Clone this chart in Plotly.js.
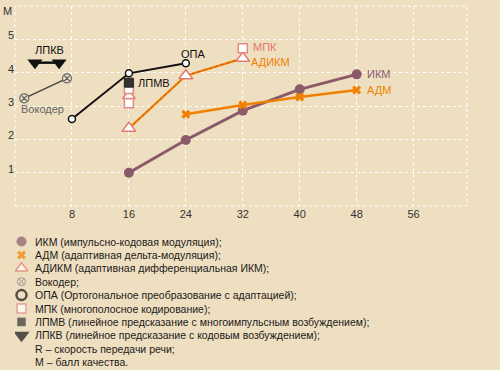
<!DOCTYPE html>
<html><head><meta charset="utf-8">
<script src="https://cdn.plot.ly/plotly-3.0.1.min.js"></script>
<style>html,body{margin:0;padding:0;background:#efdfc1;}</style>
</head><body><div id="chart" style="width:500px;height:370px;"></div>
<script>
// ---- data ----
const ikmX = [16, 24, 32, 40, 48];
const ikmY = [1.0, 1.98, 2.86, 3.5, 3.95];
const admX = [24, 32, 40, 48];
const admY = [2.75, 3.03, 3.27, 3.48];
const adikmX = [16, 24, 32];
const adikmY = [2.33, 3.91, 4.43];
const adikmExtraX = [16];
const adikmExtraY = [3.31];
const mpkX = [16, 16, 32];
const mpkY = [3.51, 3.08, 4.73];
const lpmvX = [16];
const lpmvY = [3.7];
const opaX = [8, 16, 24];
const opaY = [2.61, 3.98, 4.28];
const vocX = [1.3, 7.3];
const vocY = [3.23, 3.83];
const lpkvX = [2.8, 6.2];
const lpkvY = [4.3, 4.3];
const xTicks = [8, 16, 24, 32, 40, 48, 56];
const yTicks = [1, 2, 3, 4, 5];
const yTickText = ['1', '2', '3', '4', '5'];
const yAxisLabel = 'М';
const xAxisLabel = 'R, кбит/с';
const legendTexts = [
  'ИКМ (импульсно-кодовая модуляция);',
  'АДМ (адаптивная дельта-модуляция);',
  'АДИКМ (адаптивная дифференциальная ИКМ);',
  'Вокодер;',
  'ОПА (Ортогональное преобразование с адаптацией);',
  'МПК (многополосное кодирование);',
  'ЛПМВ (линейное предсказание с многоимпульсным возбуждением);',
  'ЛПКВ (линейное предсказание с кодовым возбуждением);',
  'R – скорость передачи речи;',
  'М – балл качества.'
];

const MAUVE = '#8a5a6b', ORANGE = '#f08000', SALMON = '#e27a6c', PINK = '#e48a86';
const FONT = 'Liberation Sans, Arial, sans-serif';
const NARROW = 'Liberation Sans Narrow, Liberation Sans, Arial, sans-serif';

const traces = [
  {x: adikmX, y: adikmY, mode: 'lines', line: {color: ORANGE, width: 2.2}, hoverinfo: 'skip'},
  {x: adikmX, y: adikmY, mode: 'lines', line: {color: '#b0502a', width: 0.8, dash: 'dot'}, hoverinfo: 'skip'},
  {x: ikmX, y: ikmY, mode: 'lines+markers', line: {color: MAUVE, width: 3}, marker: {symbol: 'circle', size: 10, color: MAUVE}},
  {x: admX, y: admY, mode: 'lines+markers', line: {color: ORANGE, width: 2.5}, marker: {symbol: 'x', size: 8, color: ORANGE}},
  {x: opaX, y: opaY, mode: 'lines+markers', line: {color: '#111', width: 2}, marker: {symbol: 'circle', size: 7, color: '#fff', line: {color: '#111', width: 1.5}}},
  {x: adikmX, y: adikmY, mode: 'markers', marker: {symbol: 'triangle-up', size: 12, color: '#fff', line: {color: SALMON, width: 1.5}}},
  {x: adikmExtraX, y: adikmExtraY, mode: 'markers', marker: {symbol: 'triangle-up', size: 11, color: '#fff', line: {color: SALMON, width: 1.5}}},
  {x: mpkX, y: mpkY, mode: 'markers', marker: {symbol: 'square', size: 9, color: '#fff', line: {color: PINK, width: 1.5}}},
  {x: lpmvX, y: lpmvY, mode: 'markers', marker: {symbol: 'square', size: 9, color: '#333', line: {color: '#222', width: 1}}},
  {x: vocX, y: vocY, mode: 'lines+markers', line: {color: '#444', width: 1.5}, marker: {symbol: 'circle-x', size: 9, color: '#efdfc1', line: {color: '#666', width: 1.2}}},
  {x: lpkvX, y: lpkvY, mode: 'lines+markers', line: {color: '#111', width: 2.5}, marker: {symbol: 'triangle-down', size: 13, color: '#111'}}
];

// legend (custom, on its own hidden axes in pixel units)
const legTop = 241.5, legStep = 13.4, legMarkX = 21.5, legTextX = 33;
const legSymbols = ['circle', 'x', 'triangle-up', 'circle-x', 'circle-open', 'square', 'square', 'triangle-down'];
const legColors = [MAUVE, ORANGE, '#fff', '#efdfc1', '#111', '#fff', '#333', '#111'];
const legLines = [MAUVE, ORANGE, SALMON, '#777', '#111', PINK, '#333', '#111'];
const legLineW = [0, 0, 1.5, 1, 2.5, 1.5, 0.5, 0];
const legSizes = [10, 8, 11, 8, 10, 9, 8, 14];
traces.push({
  x: legSymbols.map(() => legMarkX),
  y: legSymbols.map((s, i) => legTop + i * legStep),
  xaxis: 'x2', yaxis: 'y2', mode: 'markers', hoverinfo: 'skip',
  marker: {symbol: legSymbols, color: legColors, size: legSizes, line: {color: legLines, width: legLineW}}
});

const annotations = [
  {x: 49.2, y: 3.97, text: 'ИКМ', color: MAUVE, xanchor: 'left'},
  {x: 49.2, y: 3.48, text: 'АДМ', color: ORANGE, xanchor: 'left'},
  {x: 33.2, y: 4.77, text: 'МПК', color: SALMON, xanchor: 'left'},
  {x: 32.9, y: 4.32, text: 'АДИКМ', color: ORANGE, xanchor: 'left'},
  {x: 25.0, y: 4.56, text: 'ОПА', color: '#111', xanchor: 'center'},
  {x: 17.0, y: 3.70, text: 'ЛПМВ', color: '#111', xanchor: 'left'},
  {x: 4.8, y: 4.68, text: 'ЛПКВ', color: '#111', xanchor: 'center'},
  {x: 3.8, y: 2.91, text: 'Вокодер', color: '#666', xanchor: 'center'}
].map(a => ({x: a.x, y: a.y, xref: 'x', yref: 'y', text: a.text, showarrow: false,
  xanchor: a.xanchor, yanchor: 'middle', font: {family: FONT, size: 11, color: a.color}}));

legendTexts.forEach((t, i) => annotations.push({
  x: legTextX, y: legTop + i * legStep, xref: 'x2', yref: 'y2', text: t, showarrow: false,
  xanchor: 'left', yanchor: 'middle', font: {family: NARROW, size: 10.5, color: '#1a1a1a'}
}));
annotations.push({x: 475, y: 215, xref: 'x2', yref: 'y2', text: xAxisLabel, showarrow: false,
  xanchor: 'center', yanchor: 'middle', font: {family: NARROW, size: 11, color: '#222'}});
annotations.push({x: -0.0155, y: 0.986, xref: 'paper', yref: 'paper', text: yAxisLabel, showarrow: false,
  xanchor: 'center', yanchor: 'middle', font: {family: FONT, size: 11, color: '#333'}});

const layout = {
  width: 500, height: 370,
  margin: {l: 15, r: 33, t: 6, b: 0},
  paper_bgcolor: '#efdfc1', plot_bgcolor: '#efdfc1',
  showlegend: false,
  xaxis: {range: [0, 63.5], domain: [0, 1], tickvals: xTicks, showgrid: true, gridcolor: '#fff', griddash: 'dot', gridwidth: 1,
    zeroline: false, showline: false, ticks: '', tickfont: {family: FONT, size: 11, color: '#333'}, fixedrange: true},
  yaxis: {range: [0, 6], domain: [0.4505, 1], tickvals: yTicks, ticktext: yTickText, showgrid: true, gridcolor: '#fff', griddash: 'dot', gridwidth: 1,
    zeroline: false, showline: false, ticks: '', ticklabelshift: -4, tickfont: {family: FONT, size: 11, color: '#333'}, fixedrange: true},
  xaxis2: {range: [15, 467], domain: [0, 1], anchor: 'y2', visible: false, fixedrange: true},
  yaxis2: {range: [370, 206], domain: [0, 0.4505], anchor: 'x2', visible: false, fixedrange: true},
  shapes: [{type: 'rect', xref: 'x domain', yref: 'y domain', x0: 0, x1: 1, y0: 0, y1: 1,
    line: {color: '#fff', width: 1, dash: 'dot'}, layer: 'below'}],
  annotations: annotations
};

Plotly.newPlot('chart', traces, layout, {displayModeBar: false, staticPlot: true});
</script></body></html>
